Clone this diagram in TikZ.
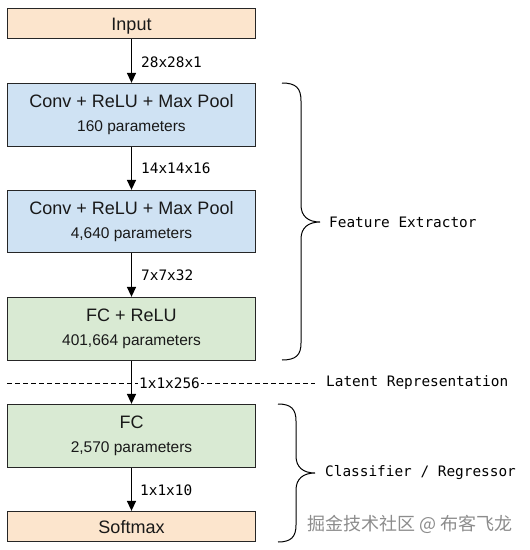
\documentclass[tikz,border=0pt]{standalone}
\usepackage{fontspec}
\setmainfont{Liberation Sans}
\setmonofont{DejaVu Sans Mono}
\newfontfamily\cjk{Noto Sans CJK SC}
\usetikzlibrary{arrows.meta}
\definecolor{peach}{HTML}{FCE5CD}
\definecolor{lblue}{HTML}{CFE2F3}
\definecolor{lgreen}{HTML}{D9EAD3}
\newcommand\pline[1]{\\\fontsize{15.5}{24}\selectfont #1}
\begin{document}
\begin{tikzpicture}[x=1pt,y=-1pt,
 layer/.style={draw=black!85, line width=1.3pt, minimum width=248pt, inner sep=0pt,
   font=\fontsize{18}{24}\selectfont, text=black!90, align=center},
 oneline/.style={text height=13pt, text depth=0pt},
 flow/.style={-{Triangle[length=10pt,width=9pt]}, line width=1.5pt},
 dim/.style={font=\ttfamily\fontsize{14.4}{16}\selectfont, anchor=west, inner sep=1pt},
 bracestyle/.style={line width=1pt}
]
\useasboundingbox (0,0) rectangle (530,550);

\node[layer, oneline, fill=peach, minimum height=30pt] (in) at (131.5,23.5) {Input};
\node[layer, fill=lblue, minimum height=63pt] (c1) at (131.5,115) {Conv + ReLU + Max Pool\pline{160 parameters}};
\node[layer, fill=lblue, minimum height=62pt] (c2) at (131.5,221.5) {Conv + ReLU + Max Pool\pline{4,640 parameters}};
\node[layer, fill=lgreen, minimum height=63pt] (f1) at (131.5,329) {FC + ReLU\pline{401,664 parameters}};
\node[layer, fill=lgreen, minimum height=63pt] (f2) at (131.5,436) {FC\pline{2,570 parameters}};
\node[layer, oneline, fill=peach, minimum height=30pt] (sm) at (131.5,526.5) {Softmax};

% latent dashed line
\coordinate (dl) at (7,383);
\coordinate (dr) at (315,383);
\draw[line width=0.9pt, dash pattern=on 5pt off 3pt] (dl) -- (dr);

\draw[flow] (in) -- (c1);
\draw[flow] (c1) -- (c2);
\draw[flow] (c2) -- (f1);
\draw[flow] (f2) -- (sm);

\node[dim] (l1) at (140,62) {28x28x1};
\node[dim] (l2) at (140,168.5) {14x14x16};
\node[dim] (l3) at (140,275) {7x7x32};
\node[dim, fill=white] (l4) at (138,383) {1x1x256};
\node[dim] (l5) at (139,490) {1x1x10};
\draw[flow] (f1) -- (f2);

\node[dim] (lat) at (325,383) {Latent Representation};

% braces
\coordinate (b1a) at (282,83);
\coordinate (b1t) at (320,222);
\coordinate (b1b) at (282,360);
\draw[bracestyle] (b1a) .. controls (296,83) and (301,88) .. (301,101) -- (301,205)
  .. controls (301,216) and (308,222) .. (b1t)
  .. controls (308,222) and (301,228) .. (301,239) -- (301,343)
  .. controls (301,355) and (296,360) .. (b1b);
\node[dim] (fe) at (328,222) {Feature Extractor};

\coordinate (b2a) at (278,404);
\coordinate (b2t) at (315,473);
\coordinate (b2b) at (278,542);
\draw[bracestyle] (b2a) .. controls (291,404) and (296,409) .. (296,421) -- (296,456)
  .. controls (296,467) and (303,473) .. (b2t)
  .. controls (303,473) and (296,479) .. (296,490) -- (296,525)
  .. controls (296,537) and (291,542) .. (b2b);
\node[dim] (cr) at (324,473) {Classifier / Regressor};

\node[font=\cjk\fontsize{18}{20}\selectfont, text=black!45, anchor=west, inner sep=0pt] (wm) at (307,524) {掘金技术社区 @ 布客飞龙};
\end{tikzpicture}
\end{document}
